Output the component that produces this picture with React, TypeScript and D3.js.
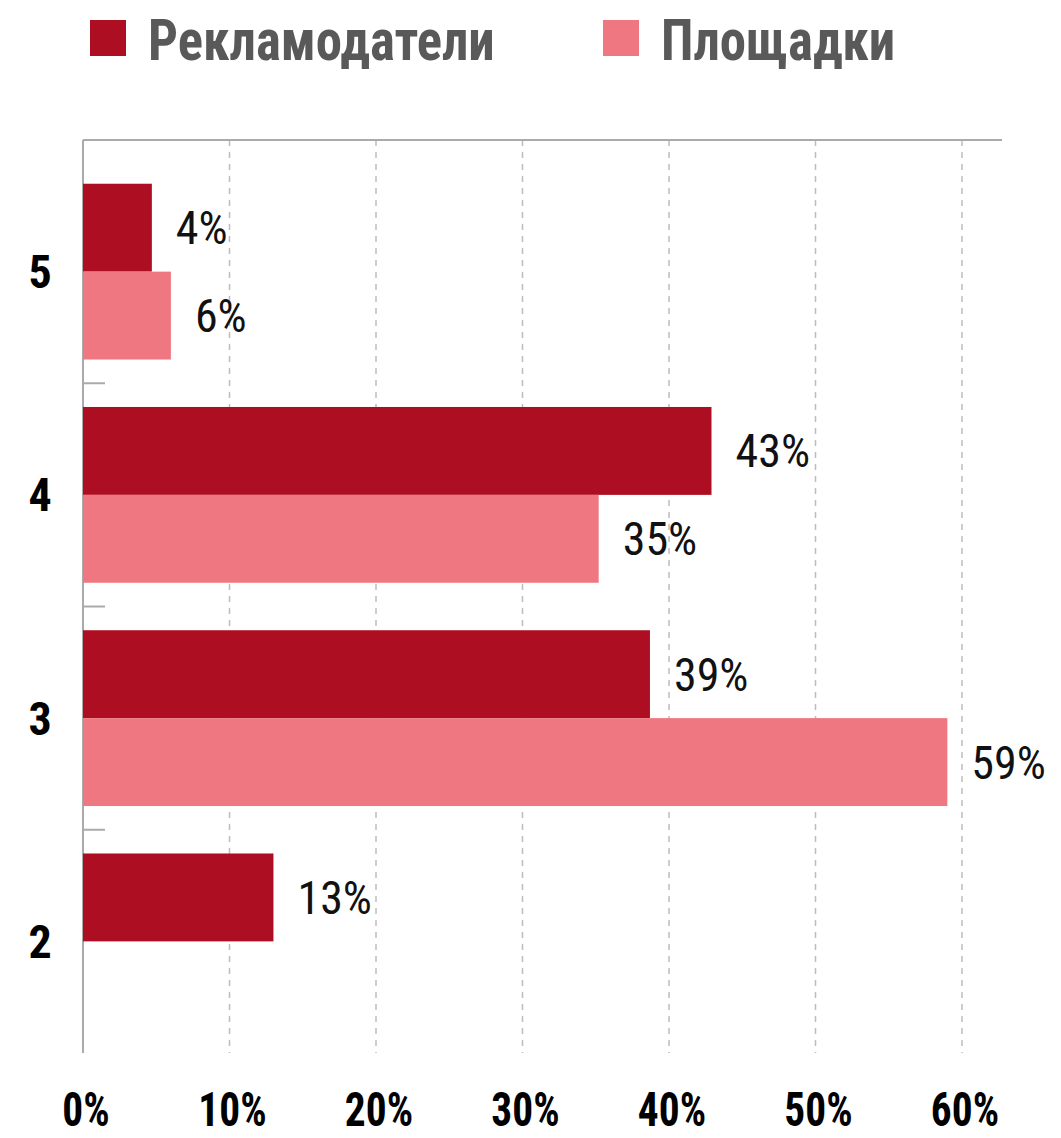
import React, { useRef, useEffect } from 'react';
import * as d3 from 'd3';

const categories = ['5', '4', '3', '2'];
const seriesNames = ['Рекламодатели', 'Площадки'];
const advertisers = [4.7, 42.9, 38.7, 13];
const platforms = [6, 35.2, 59, 0];
const advertiserLabels = ['4%', '43%', '39%', '13%'];
const platformLabels = ['6%', '35%', '59%', ''];
const xTicks = [0, 10, 20, 30, 40, 50, 60];

const colors = ['#ad0e22', '#ee7781'];
const FONT = "'Roboto Condensed', 'Liberation Sans Narrow', 'DejaVu Sans Condensed', sans-serif";

const width = 1061;
const height = 1138;

const App: React.FC = () => {
  const ref = useRef<SVGSVGElement | null>(null);

  useEffect(() => {
    if (!ref.current) return;
    const svg = d3.select<SVGSVGElement, unknown>(ref.current);
    svg.selectAll('*').remove();

    const left = 83;
    const right = 1002;
    const top = 140;
    const plotTop = 160;
    const bottom = 1053;

    const x = d3.scaleLinear().domain([0, 60]).range([left, 962]);
    const y = d3.scaleBand<string>().domain(categories).range([plotTop, bottom]);
    const inner = d3
      .scaleBand<number>()
      .domain([0, 1])
      .range([0, y.bandwidth()])
      .paddingOuter(0.27);

    // gridlines
    svg
      .append('g')
      .selectAll('line')
      .data(xTicks.filter(t => t > 0))
      .enter()
      .append('line')
      .attr('x1', d => x(d))
      .attr('x2', d => x(d))
      .attr('y1', top)
      .attr('y2', bottom)
      .attr('stroke', '#bdbdbd')
      .attr('stroke-width', 1.5)
      .attr('stroke-dasharray', '6,6');

    // frame top and left axis
    svg
      .append('line')
      .attr('x1', left)
      .attr('x2', right)
      .attr('y1', top)
      .attr('y2', top)
      .attr('stroke', '#aaaaaa')
      .attr('stroke-width', 2);
    svg
      .append('line')
      .attr('x1', left)
      .attr('x2', left)
      .attr('y1', top)
      .attr('y2', bottom)
      .attr('stroke', '#aaaaaa')
      .attr('stroke-width', 2);

    // category separator ticks
    svg
      .append('g')
      .selectAll('line')
      .data(categories.slice(1))
      .enter()
      .append('line')
      .attr('x1', left)
      .attr('x2', left + 22)
      .attr('y1', d => y(d)!)
      .attr('y2', d => y(d)!)
      .attr('stroke', '#aaaaaa')
      .attr('stroke-width', 2);

    const series = [
      { values: advertisers, labels: advertiserLabels },
      { values: platforms, labels: platformLabels },
    ];

    series.forEach((s, si) => {
      const g = svg.append('g');
      g.selectAll('rect')
        .data(categories)
        .enter()
        .append('rect')
        .attr('x', left)
        .attr('y', d => y(d)! + inner(si)!)
        .attr('width', (_, i) => x(s.values[i]) - left)
        .attr('height', inner.bandwidth())
        .attr('fill', colors[si]);

      g.selectAll('text')
        .data(categories)
        .enter()
        .append('text')
        .attr('x', (_, i) => x(s.values[i]) + 24)
        .attr('y', d => y(d)! + inner(si)! + inner.bandwidth() / 2)
        .attr('dy', '0.36em')
        .style('font-family', FONT)
        .style('font-size', '46px')
        .style('fill', '#111')
        .text((_, i) => s.labels[i]);
    });

    // category labels
    svg
      .append('g')
      .selectAll('text')
      .data(categories)
      .enter()
      .append('text')
      .attr('x', 40)
      .attr('y', d => y(d)! + y.bandwidth() / 2)
      .attr('dy', '0.36em')
      .attr('text-anchor', 'middle')
      .style('font-family', FONT)
      .style('font-weight', 'bold')
      .style('font-size', '46px')
      .style('fill', '#000')
      .text(d => d);

    // x tick labels
    svg
      .append('g')
      .selectAll('text')
      .data(xTicks)
      .enter()
      .append('text')
      .attr('transform', d => `translate(${x(d) + 3}, 1126) scale(0.9, 1.05)`)
      .attr('text-anchor', 'middle')
      .style('font-family', FONT)
      .style('font-weight', 'bold')
      .style('font-size', '46px')
      .style('fill', '#000')
      .text(d => `${d}%`);

    // legend
    const legendX = [90, 603];
    const legend = svg
      .append('g')
      .selectAll('g')
      .data(seriesNames)
      .enter()
      .append('g')
      .attr('transform', (_, i) => `translate(${legendX[i]}, 20)`);
    legend
      .append('rect')
      .attr('width', 36)
      .attr('height', 36)
      .attr('fill', (_, i) => colors[i]);
    legend
      .append('text')
      .attr('transform', 'translate(58, 40) scale(0.91, 1)')
      .style('font-family', FONT)
      .style('font-weight', 'bold')
      .style('font-size', '58px')
      .style('fill', '#595959')
      .text(d => d);
  }, []);

  return (
    <svg
      ref={ref}
      width={width}
      height={height}
      style={{ position: 'absolute', left: 0, top: 0, background: '#fff' }}
    />
  );
};

export default App;
